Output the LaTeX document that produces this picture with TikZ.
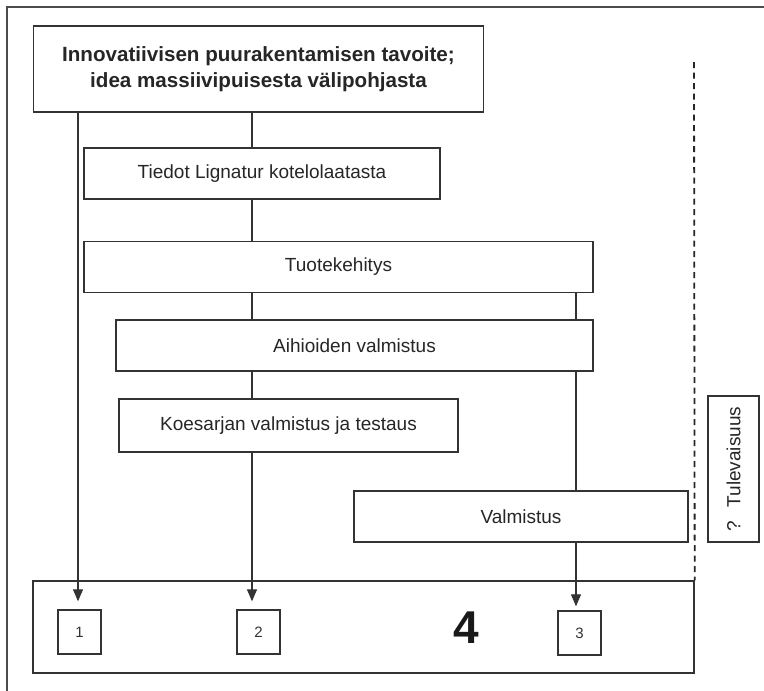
\documentclass[tikz,border=0pt]{standalone}
\usepackage{fontspec}
\setmainfont{Liberation Sans}
\usetikzlibrary{arrows.meta}

\begin{document}
\begin{tikzpicture}[x=1pt,y=-1pt,
		box/.style={draw,rectangle,inner sep=0pt,line width=1.4pt,color=black!80,text=black!85,font=\fontsize{19}{23}\selectfont},
		numbox/.style={draw,rectangle,inner sep=0pt,line width=1.4pt,color=black!80,text=black!80,minimum width=43pt,minimum height=44pt,font=\fontsize{15}{18}\selectfont},
		link/.style={line width=1.2pt,color=black!80},
		>={Triangle[length=12pt,width=10pt]}]
			\useasboundingbox (0,0) rectangle (764,691);
			\fill[white] (0,0) rectangle (764,691);
			\clip (0,0) rectangle (764,691);
			\draw[line width=1.5pt,color=black!70] (7,700) -- (7,7) -- (770,7);
			\node[box,minimum width=450pt,minimum height=86pt,align=center,font=\bfseries\fontsize{20.6}{26}\selectfont] (goal) at (258.5,69){Innovatiivisen puurakentamisen tavoite;\\idea massiivipuisesta välipohjasta};
			\node[box,minimum width=356pt,minimum height=51pt] (tiedot) at (262,173.5){Tiedot Lignatur kotelolaatasta};
			\node[box,minimum width=509pt,minimum height=51pt] (tuote) at (338.5,267){Tuotekehitys};
			\node[box,minimum width=477pt,minimum height=51pt] (aihio) at (354.5,345.5){Aihioiden valmistus};
			\node[box,minimum width=339pt,minimum height=53pt] (koe) at (288.5,425.5){Koesarjan valmistus ja testaus};
			\node[box,minimum width=334pt,minimum height=51pt] (valm) at (521,516.5){Valmistus};
			\node[box,minimum width=146pt,minimum height=51pt,rotate=90] (tulev) at (733.5,469){?\hspace{0.7em}Tulevaisuus};
			\node[box,minimum width=661pt,minimum height=92pt] (base) at (363.5,627){};
			\node[numbox] (n1) at (79.5,632){1};
			\node[numbox] (n2) at (258.5,632){2};
			\node[numbox] (n3) at (579.5,633){3};
			\node[font=\bfseries\fontsize{46}{46}\selectfont,text=black!90] (four) at (466,628){4};
			\coordinate (c1) at (78,0);
			\coordinate (c2) at (252,0);
			\coordinate (c3) at (576,0);
			\coordinate (dtop) at (694,62);
			\draw[link,->] (goal.south -| c1) -- ([yshift=8pt]n1.north -| c1);
			\draw[link] (goal.south -| c2) -- (tiedot.north -| c2);
			\draw[link] (tiedot.south -| c2) -- (tuote.north -| c2);
			\draw[link] (tuote.south -| c2) -- (aihio.north -| c2);
			\draw[link] (aihio.south -| c2) -- (koe.north -| c2);
			\draw[link,->] (koe.south -| c2) -- ([yshift=8pt]n2.north -| c2);
			\draw[link] (tuote.south -| c3) -- (aihio.north -| c3);
			\draw[link] (aihio.south -| c3) -- (valm.north -| c3);
			\draw[link,->] (valm.south -| c3) -- ([yshift=4pt]n3.north -| c3);
			\draw[line width=1.8pt,color=black!85,dash pattern=on 6pt off 4.5pt] (dtop) -- (base.north east);
		\end{tikzpicture}
\end{document}
